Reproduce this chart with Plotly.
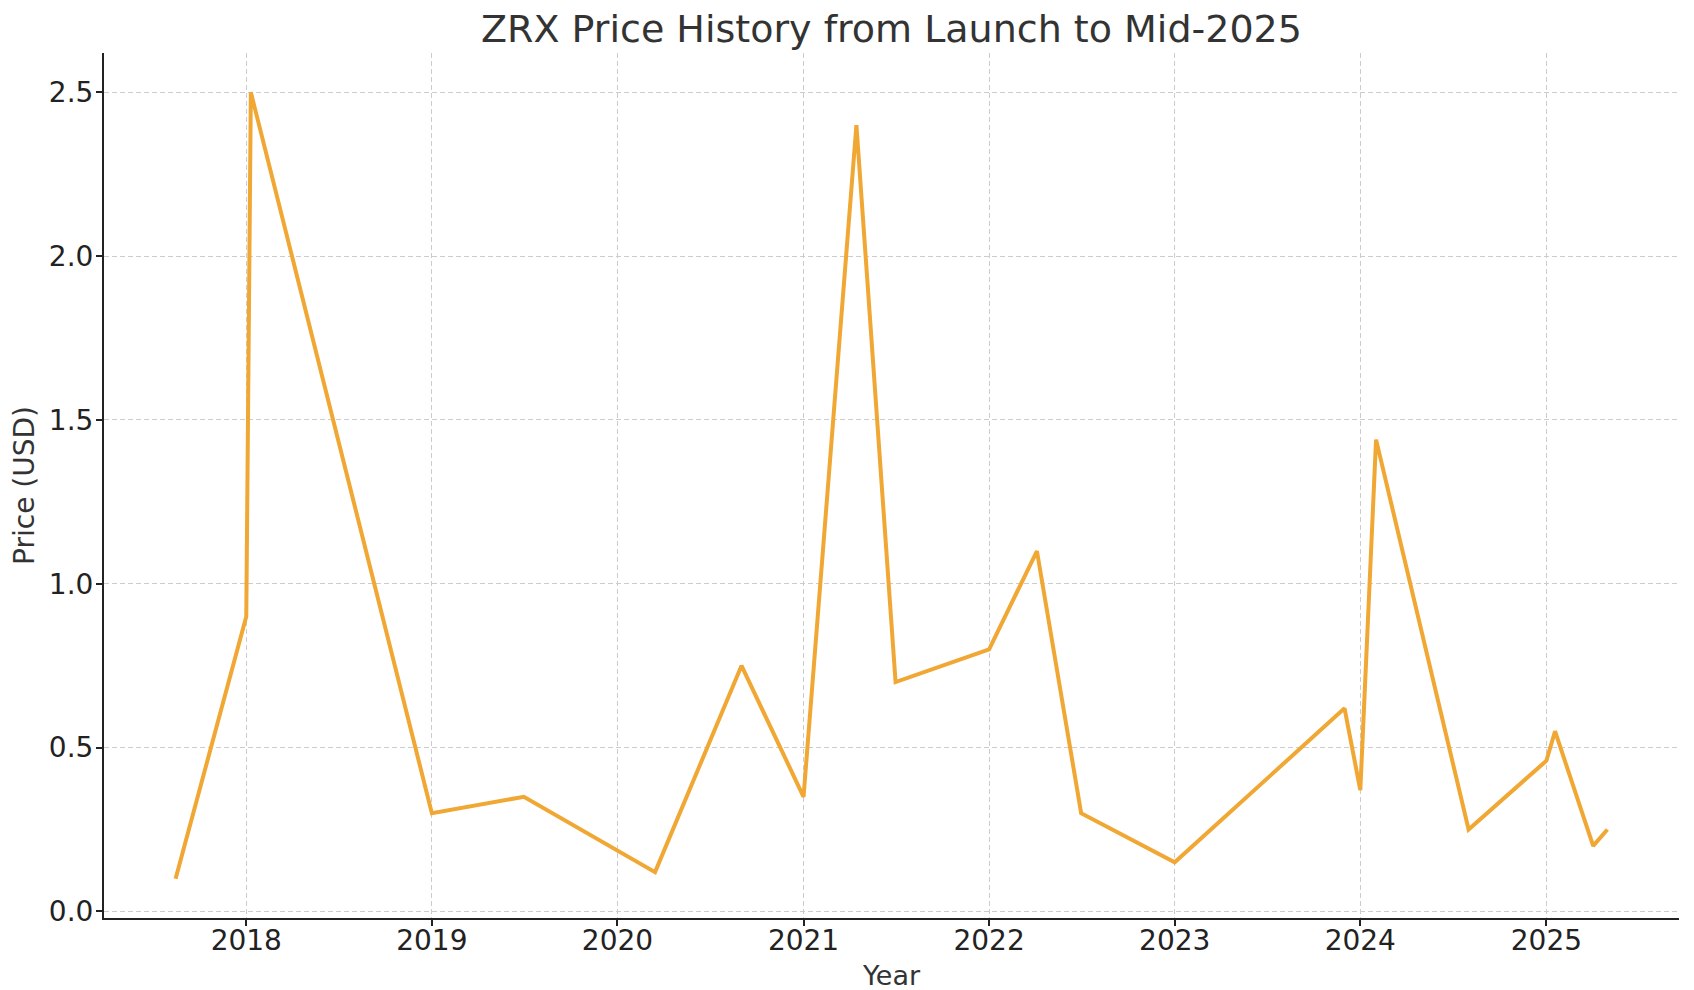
import pandas as pd
import plotly.graph_objects as go

# ZRX price points
dates = [
    "2017-08-15", "2018-01-01", "2018-01-10", "2019-01-01", "2019-07-01",
    "2020-03-15", "2020-09-01", "2021-01-01", "2021-04-15", "2021-07-01",
    "2022-01-01", "2022-04-05", "2022-07-01", "2023-01-01", "2023-12-01",
    "2024-01-01", "2024-02-01", "2024-08-01", "2025-01-01", "2025-01-18",
    "2025-04-03", "2025-05-01",
]
prices = [
    0.10, 0.90, 2.50, 0.30, 0.35,
    0.12, 0.75, 0.35, 2.40, 0.70,
    0.80, 1.10, 0.30, 0.15, 0.62,
    0.37, 1.44, 0.25, 0.46, 0.55,
    0.20, 0.25,
]
year_ticks = [f"{y}-01-01" for y in range(2018, 2026)]
year_labels = [str(y) for y in range(2018, 2026)]
price_ticks = [0.0, 0.5, 1.0, 1.5, 2.0, 2.5]

FONT = "DejaVu Sans"
LINE_COLOR = "#F0A733"

x = pd.to_datetime(dates)
x_pad = (x.max() - x.min()) * 0.05
y_pad = (max(prices) - min(prices)) * 0.05

fig = go.Figure(
    go.Scatter(
        x=x,
        y=prices,
        mode="lines",
        line={"color": LINE_COLOR, "width": 4},
        hoverinfo="x+y",
    )
)

axis_common = {
    "showline": True,
    "linecolor": "#222222",
    "linewidth": 2,
    "ticks": "outside",
    "ticklen": 6,
    "tickwidth": 1.5,
    "tickcolor": "#222222",
    "showgrid": True,
    "gridcolor": "#cccccc",
    "gridwidth": 1,
    "griddash": "5px,3px",
    "zeroline": False,
    "tickfont": {"family": FONT, "size": 28, "color": "#222222"},
    "mirror": False,
}

fig.update_layout(
    width=1694,
    height=990,
    paper_bgcolor="white",
    plot_bgcolor="white",
    margin={"l": 96, "r": 23, "t": 45, "b": 69},
    showlegend=False,
    title={
        "text": "ZRX Price History from Launch to Mid-2025",
        "xref": "paper",
        "x": 0.5,
        "xanchor": "center",
        "y": 0.979,
        "yanchor": "middle",
        "font": {"family": FONT, "size": 38, "color": "#333333"},
    },
    xaxis={
        **axis_common,
        "range": [x.min() - x_pad, x.max() + x_pad],
        "tickvals": pd.to_datetime(year_ticks),
        "ticktext": year_labels,
        "ticklabelstandoff": -10,
        "title": {"text": "Year", "font": {"family": FONT, "size": 27, "color": "#333333"}, "standoff": 11},
    },
    yaxis={
        **axis_common,
        "range": [min(prices) - y_pad, max(prices) + y_pad],
        "tickvals": price_ticks,
        "ticktext": [f"{v:.1f}" for v in price_ticks],
        "ticklabelstandoff": -3,
        "title": {"text": "Price (USD)", "font": {"family": FONT, "size": 28, "color": "#333333"}, "standoff": 9},
    },
)

fig.write_html("out.html")
